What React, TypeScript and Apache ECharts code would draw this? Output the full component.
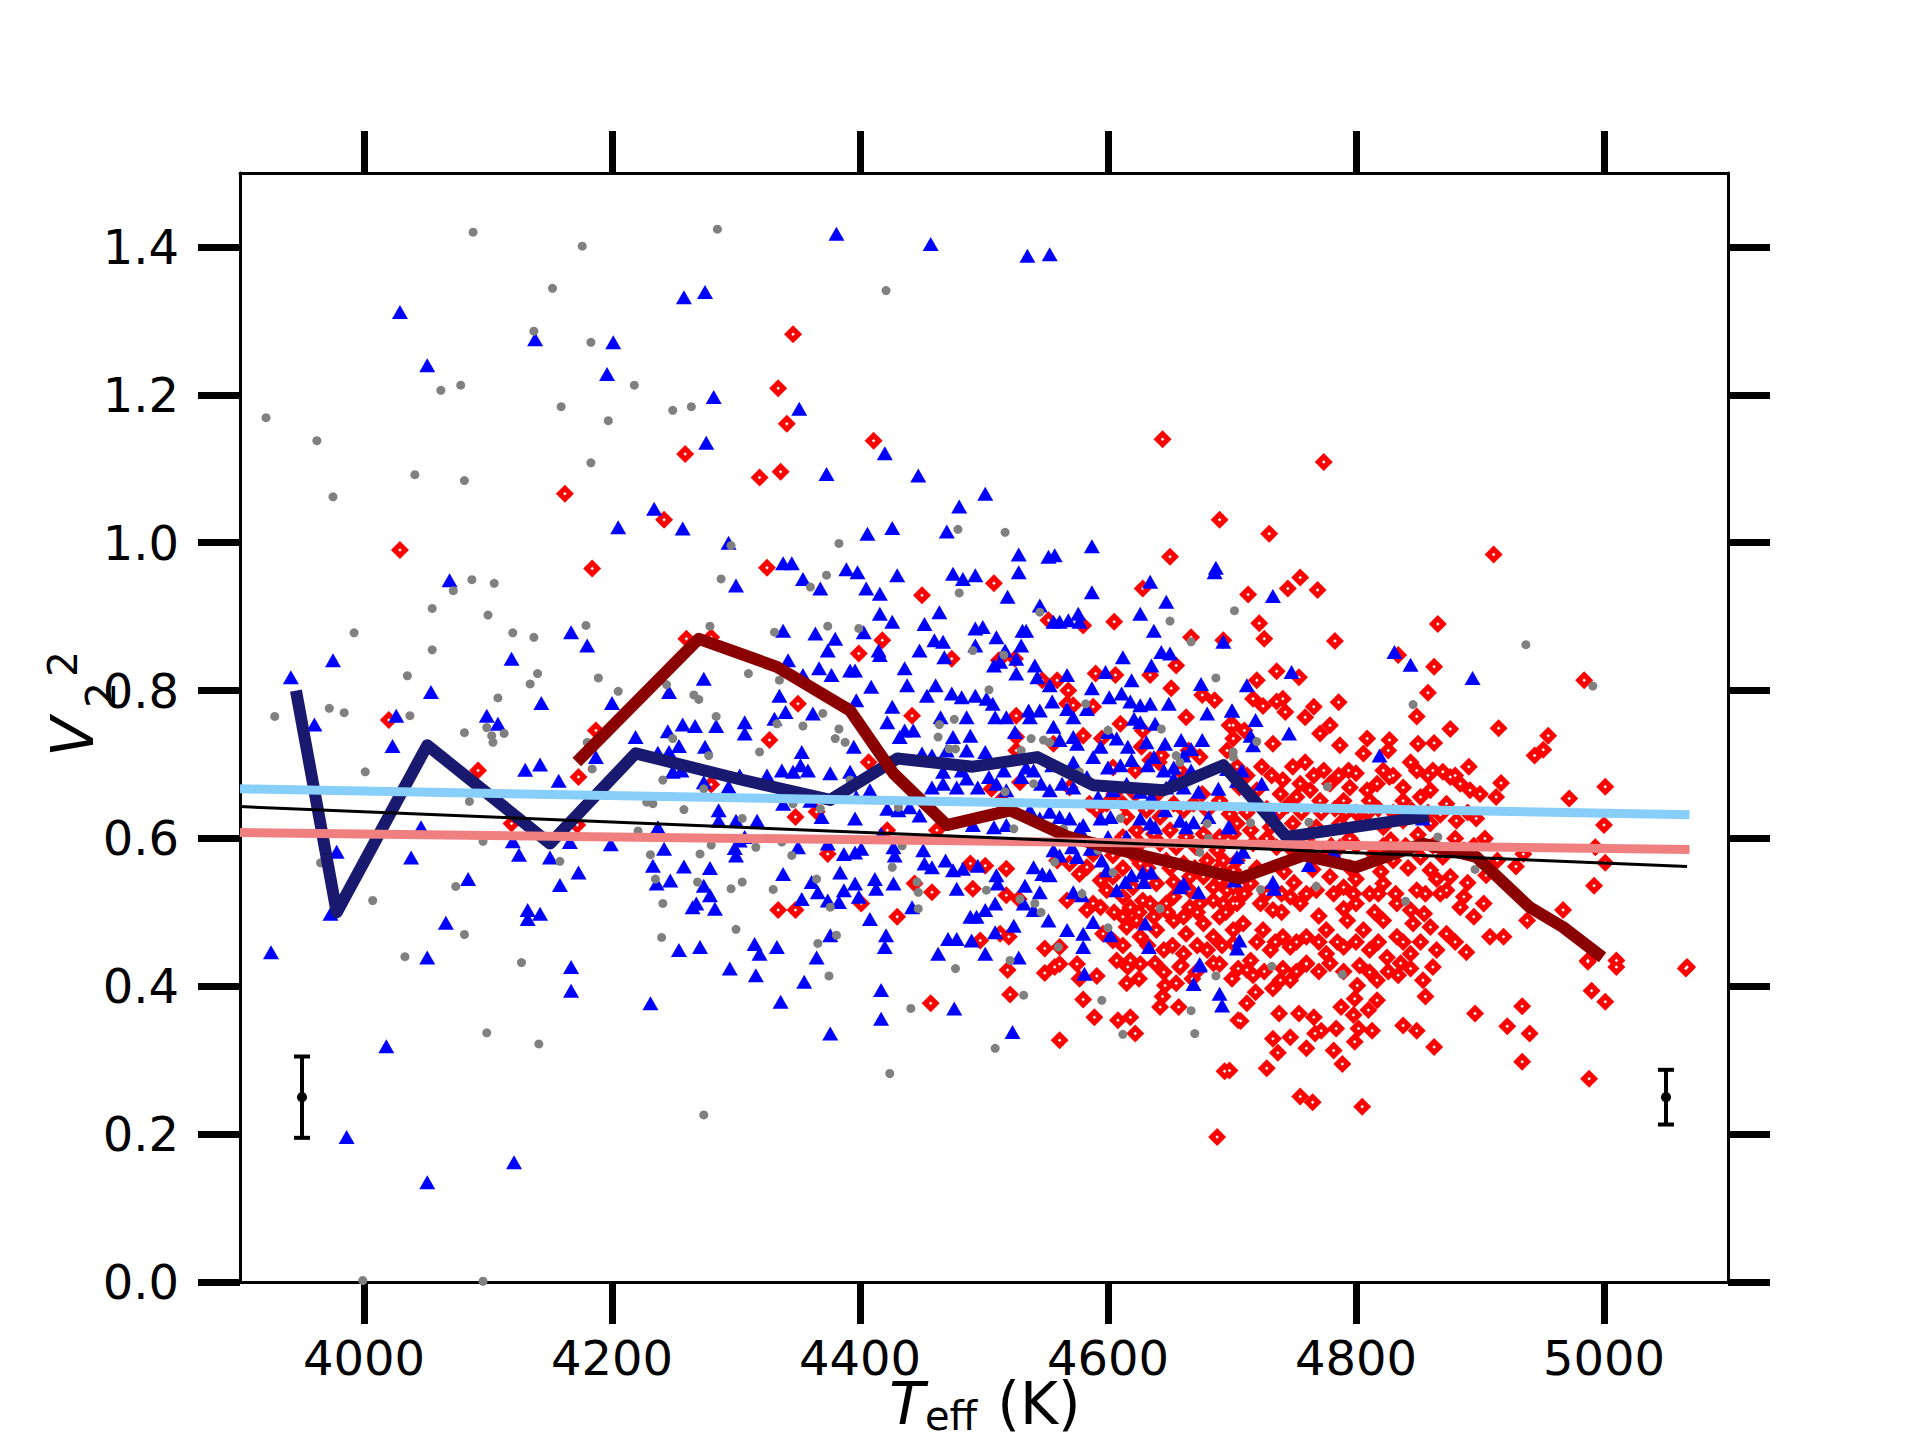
import React, { useEffect, useRef } from 'react';
import * as echarts from 'echarts';

const xTicks = [4000, 4200, 4400, 4600, 4800, 5000];
const yTicks = [0, 0.2, 0.4, 0.6, 0.8, 1.0, 1.2, 1.4];

const grayStars: number[][] = [
  [4088,1.420],[4176,1.401],[4285,1.424],[4152,1.344],[4137,1.286],[4183,1.271],[4218,1.213],[4062,1.206],[4078,1.213],[4159,1.184],[4197,1.165],[4249,1.179],[4264,1.184],[3921,1.169],[3962,1.138],[3975,1.062],[4041,1.092],[4081,1.084],[4183,1.108],[4296,0.996],
  [4421,1.341],[4479,1.018],[4517,1.014],[4383,0.999],
  [4087,0.950],[4105,0.945],[4072,0.935],[4288,0.951],[4055,0.911],[4100,0.902],[3992,0.878],[4120,0.878],[4137,0.872],[4179,0.888],[4279,0.887],[4055,0.855],[4035,0.820],[4140,0.823],[4134,0.809],[4189,0.817],[4205,0.799],[4244,0.808],[4266,0.794],[4270,0.788],[4108,0.790],[3928,0.765],[3972,0.776],[3984,0.770],[4037,0.766],[4284,0.765],[4081,0.743],[4099,0.750],[4103,0.739],[4113,0.742],[4104,0.730],[4180,0.730],[4249,0.735],[4278,0.712],[4184,0.694],[4001,0.690],[4241,0.679],[4274,0.667],[4085,0.650],[4228,0.649],[4233,0.647],[4258,0.639],[4221,0.610],[4096,0.596],[4280,0.591],[4271,0.579],[4231,0.578],[3965,0.567],[4158,0.569],[4235,0.545],[4269,0.541],[4296,0.532],[4074,0.535],[4007,0.516],[4241,0.512],[4081,0.470],[4300,0.477],[4240,0.466],[4033,0.440],[4127,0.432],
  [4099,0.337],[4141,0.322],[4274,0.226],[3999,0.002],[4096,0.001],
  [4373,0.956],[4360,0.940],[4480,0.932],[4545,0.906],[4650,0.894],[4702,0.908],[4667,0.866],[4331,0.879],[4374,0.887],[4399,0.884],[4491,0.854],[4516,0.848],[4687,0.817],[4310,0.823],[4335,0.814],[4370,0.769],[4333,0.755],[4354,0.752],[4383,0.748],[4464,0.754],[4476,0.761],[4504,0.801],[4582,0.782],[4643,0.748],[4319,0.717],[4380,0.735],[4388,0.730],[4463,0.737],[4472,0.721],[4477,0.721],[4530,0.719],[4538,0.735],[4548,0.733],[4553,0.730],[4600,0.746],[4655,0.712],[4658,0.703],[4305,0.627],[4346,0.647],[4368,0.640],[4431,0.642],[4517,0.663],[4540,0.674],[4610,0.627],[4680,0.620],[4681,0.600],[4577,0.690],[4524,0.613],[4392,0.679],[4564,0.613],[4337,0.595],[4345,0.577],[4434,0.590],[4426,0.561],[4557,0.568],[4592,0.584],[4604,0.554],[4674,0.581],[4316,0.588],[4305,0.541],[4330,0.531],[4365,0.545],[4376,0.507],[4446,0.541],[4447,0.527],[4447,0.505],[4502,0.530],[4529,0.518],[4541,0.512],[4546,0.500],[4579,0.525],[4600,0.479],[4642,0.505],[4366,0.458],[4381,0.469],[4560,0.453],[4521,0.435],[4477,0.424],
  [4375,0.414],[4441,0.370],[4532,0.388],[4509,0.316],[4424,0.282],[4595,0.381],[4612,0.335],[4667,0.367],[4670,0.336],[4687,0.414],
  [4732,0.427],[4789,0.416],
  [4937,0.862],[4991,0.806],[4846,0.781],[4720,0.731],[4701,0.717],[4701,0.710],[4777,0.670],[4762,0.622],[4715,0.621],[4866,0.602],[4896,0.558],[4768,0.535],[4723,0.531],[4840,0.515]
];

const blueStars: number[][] = [
  [4029,1.312],[4051,1.240],[4138,1.275],[4201,1.271],[4196,1.228],[4258,1.332],[4275,1.339],[4282,1.197],[4276,1.135],[4234,1.046],[4205,1.021],[4257,1.019],[4294,1.000],
  [4381,1.418],[4457,1.404],[4535,1.388],[4553,1.390],[4351,1.181],[4420,1.121],[4373,1.093],[4447,1.091],[4501,1.066],[4480,1.049],[4406,1.012],[4426,1.020],[4470,1.015],[4528,0.984],[4552,0.981],[4557,0.983],[4587,0.995],[4338,0.972],[4345,0.972],[4389,0.964],[4687,0.966],
  [4069,0.949],[4300,0.942],[4167,0.879],[4180,0.861],[3975,0.841],[4119,0.843],[3941,0.818],[4054,0.798],[4143,0.783],[4200,0.783],[4246,0.798],[4274,0.816],[4026,0.766],[3960,0.754],[4099,0.766],[4108,0.755],[4023,0.725],[4219,0.737],[4245,0.745],[4257,0.754],[4267,0.752],[4284,0.752],[4237,0.716],[4246,0.717],[4254,0.725],[4275,0.724],[4187,0.710],[4130,0.693],[4142,0.700],[4157,0.678],[4249,0.690],[4256,0.692],[4274,0.676],[4294,0.670],[4286,0.638],[4286,0.624],[4300,0.624],[4046,0.615],[4237,0.615],[3978,0.582],[4120,0.596],[4125,0.578],[4150,0.574],[4166,0.595],[4199,0.592],[4242,0.586],[4299,0.587],[4300,0.577],[4038,0.574],[4233,0.563],[4258,0.562],[4279,0.560],[4173,0.554],[4084,0.545],[4158,0.537],[4236,0.539],[4247,0.543],[4274,0.536],[4279,0.523],[4268,0.512],[4265,0.507],[4283,0.505],[3973,0.498],[4132,0.503],[4142,0.498],[4132,0.491],[4066,0.486],[3925,0.446],[4051,0.439],[4254,0.449],[4271,0.453],[4167,0.426],[4295,0.424],
  [4167,0.394],[4231,0.377],[4018,0.319],[3986,0.196],[4051,0.135],[4121,0.162],
  [4354,0.951],[4368,0.938],[4398,0.960],[4405,0.938],[4416,0.931],[4430,0.956],[4475,0.958],[4483,0.951],[4493,0.956],[4528,0.960],[4587,0.933],[4634,0.947],[4647,0.920],[4686,0.960],[4519,0.927],[4464,0.906],[4416,0.904],[4426,0.893],[4545,0.915],[4556,0.893],[4561,0.893],[4568,0.895],[4576,0.904],[4577,0.893],[4626,0.904],[4637,0.881],[4693,0.866],
  [4338,0.881],[4364,0.877],[4380,0.870],[4403,0.879],[4452,0.890],[4493,0.884],[4499,0.886],[4510,0.872],[4531,0.881],[4534,0.881],[4374,0.854],[4415,0.854],[4416,0.848],[4448,0.854],[4460,0.868],[4467,0.866],[4493,0.861],[4468,0.845],[4517,0.854],[4530,0.861],[4526,0.843],[4612,0.845],[4643,0.852],[4650,0.850],[4635,0.834],[4342,0.841],[4367,0.830],[4392,0.827],[4436,0.830],[4508,0.834],[4513,0.839],[4541,0.834],[4567,0.821],[4619,0.814],[4598,0.825],[4675,0.809],
  [4354,0.821],[4377,0.821],[4396,0.827],[4409,0.805],[4438,0.807],[4461,0.807],[4335,0.793],[4454,0.793],[4474,0.796],[4482,0.791],[4493,0.793],[4502,0.789],[4507,0.782],[4526,0.823],[4543,0.818],[4553,0.807],[4555,0.785],[4536,0.773],[4545,0.773],[4567,0.775],[4572,0.764],[4587,0.803],[4601,0.791],[4611,0.796],[4618,0.785],[4626,0.780],[4634,0.782],[4583,0.775],[4649,0.782],[4700,0.773],[4680,0.769],[4340,0.771],[4307,0.757],[4362,0.769],[4397,0.787],[4426,0.778],[4465,0.764],[4486,0.764],[4518,0.764],[4509,0.764],[4621,0.762],
  [4307,0.742],[4331,0.762],[4422,0.757],[4436,0.746],[4443,0.746],[4432,0.737],[4475,0.737],[4489,0.739],[4525,0.744],[4537,0.764],[4556,0.751],[4561,0.733],[4572,0.737],[4600,0.744],[4607,0.735],[4626,0.757],[4638,0.755],[4659,0.733],[4667,0.721],[4676,0.733],[4646,0.728],[4661,0.712],[4353,0.717],[4352,0.699],[4346,0.690],[4358,0.692],[4376,0.688],[4392,0.690],[4395,0.724],[4408,0.665],[4450,0.715],[4458,0.712],[4470,0.719],[4486,0.719],[4501,0.717],[4516,0.692],[4534,0.696],[4555,0.699],[4572,0.703],[4588,0.710],[4600,0.696],[4610,0.699],[4619,0.706],[4632,0.699],[4645,0.692],[4653,0.696],[4667,0.692],[4575,0.728],[4594,0.724],[4616,0.724],[4631,0.730],[4637,0.710],[4467,0.690],[4482,0.692],[4696,0.694],[4325,0.685],
  [4303,0.685],[4337,0.692],[4397,0.656],[4422,0.640],[4431,0.638],[4440,0.642],[4448,0.631],[4458,0.669],[4467,0.674],[4478,0.669],[4486,0.681],[4495,0.669],[4504,0.683],[4510,0.674],[4518,0.665],[4530,0.683],[4540,0.692],[4546,0.674],[4553,0.665],[4563,0.674],[4572,0.669],[4583,0.683],[4592,0.656],[4604,0.665],[4615,0.674],[4626,0.663],[4635,0.656],[4647,0.669],[4653,0.681],[4661,0.669],[4673,0.663],[4689,0.667],[4704,0.678],[4537,0.638],[4545,0.627],[4553,0.636],[4561,0.629],[4569,0.627],[4580,0.618],[4594,0.627],[4602,0.629],[4626,0.627],[4634,0.620],[4646,0.638],[4658,0.624],[4669,0.622],[4681,0.629],[4697,0.615],[4369,0.629],[4396,0.627],[4317,0.624],[4338,0.647],[4360,0.651],[4491,0.618],[4508,0.615],[4518,0.618],
  [4303,0.597],[4307,0.602],[4350,0.588],[4374,0.593],[4387,0.579],[4396,0.581],[4401,0.586],[4417,0.606],[4427,0.588],[4428,0.577],[4451,0.584],[4452,0.566],[4458,0.561],[4469,0.570],[4475,0.557],[4483,0.559],[4495,0.563],[4540,0.561],[4547,0.552],[4553,0.550],[4561,0.577],[4571,0.588],[4575,0.575],[4586,0.586],[4595,0.570],[4599,0.557],[4619,0.550],[4628,0.554],[4635,0.554],[4658,0.534],[4673,0.527],[4704,0.575],[4702,0.543],[4556,0.584],[4600,0.602],[4615,0.602],[4638,0.615],[4577,0.613],[4663,0.615],
  [4338,0.552],[4361,0.541],[4366,0.527],[4384,0.554],[4387,0.530],[4396,0.539],[4412,0.545],[4413,0.532],[4427,0.539],[4442,0.507],[4353,0.518],[4374,0.516],[4383,0.514],[4399,0.521],[4478,0.532],[4510,0.550],[4511,0.539],[4533,0.536],[4545,0.527],[4509,0.512],[4532,0.512],[4572,0.527],[4579,0.523],[4607,0.530],[4614,0.541],[4629,0.541],[4661,0.539],[4630,0.485],[4580,0.471],[4552,0.489],[4567,0.476],[4588,0.487],[4602,0.469],[4489,0.494],[4494,0.494],[4501,0.503],[4524,0.482],[4408,0.491],[4421,0.469],[4471,0.464],[4478,0.464],[4490,0.462],[4509,0.473],[4540,0.503],[4528,0.439],[4501,0.444],[4463,0.444],[4315,0.457],[4333,0.453],[4319,0.444],[4365,0.439],[4376,0.469],[4420,0.453],[4580,0.453],[4633,0.453],[4674,0.430],[4704,0.451],
  [4316,0.415],[4355,0.406],[4336,0.379],[4417,0.395],[4417,0.356],[4376,0.336],[4476,0.370],[4523,0.338],[4581,0.417],[4674,0.428],[4669,0.403],[4690,0.390],[4692,0.374],
  [4733,0.928],[4831,0.852],[4844,0.835],[4894,0.817],[4748,0.825],[4712,0.807],[4700,0.773],[4719,0.760],[4746,0.742],[4715,0.739],[4717,0.726],[4819,0.712],[4708,0.692],[4724,0.674],[4733,0.631],[4698,0.615],[4709,0.582],[4762,0.564],[4782,0.582],[4733,0.541],[4734,0.532],[4854,0.627],[4706,0.462]
];

const redStars: number[][] = [
  [4259,1.120],[4162,1.066],[4242,1.031],[4029,0.990],[4184,0.965],
  [4346,1.282],[4334,1.209],[4341,1.161],[4411,1.138],[4336,1.096],[4319,1.088],[4644,1.140],[4690,1.031],[4650,0.981],[4325,0.966],
  [4774,1.109],[4730,1.012],[4911,0.984],
  [4020,0.760],[4092,0.692],[4173,0.683],[4187,0.746],[4260,0.870],[4280,0.872],[4280,0.673],[4119,0.620],[4172,0.618],
  [4450,0.929],[4508,0.945],[4628,0.938],[4552,0.895],[4580,0.888],[4605,0.893],[4667,0.872],[4693,0.868],[4418,0.868],[4399,0.850],[4474,0.843],
  [4590,0.823],[4606,0.821],[4655,0.834],[4634,0.821],[4651,0.803],[4559,0.814],[4568,0.800],[4525,0.843],[4512,0.841],[4547,0.814],[4676,0.794],[4686,0.787],
  [4350,0.782],[4442,0.766],[4610,0.755],[4628,0.746],[4663,0.764],[4698,0.753],[4572,0.780],[4588,0.778],[4567,0.782],[4526,0.766],
  [4327,0.733],[4526,0.737],[4526,0.719],[4556,0.728],[4580,0.739],[4595,0.735],[4627,0.724],[4634,0.706],[4641,0.703],[4643,0.712],[4665,0.719],[4674,0.710],[4701,0.735],[4696,0.719],[4407,0.703],[4604,0.696],[4622,0.692],[4658,0.692],
  [4348,0.629],[4365,0.636],[4422,0.611],[4462,0.611],[4506,0.667],[4529,0.676],[4514,0.652],[4569,0.669],[4585,0.647],[4591,0.638],[4599,0.647],[4612,0.647],[4615,0.629],[4631,0.638],[4642,0.629],[4653,0.647],[4661,0.638],[4669,0.647],[4680,0.638],[4690,0.651],[4698,0.633],[4704,0.620],[4623,0.611],[4637,0.606],[4650,0.611],[4663,0.602],[4677,0.606],[4690,0.602],[4701,0.606],
  [4374,0.579],[4489,0.566],[4501,0.563],[4518,0.559],[4559,0.570],[4569,0.566],[4583,0.561],[4588,0.579],[4604,0.577],[4620,0.579],[4626,0.566],[4647,0.570],[4661,0.566],[4680,0.570],[4693,0.570],[4701,0.557],[4604,0.548],[4620,0.534],[4639,0.539],[4653,0.541],[4666,0.548],[4685,0.534],[4696,0.530],[4577,0.552],[4594,0.543],[4633,0.543],
  [4334,0.503],[4348,0.503],[4401,0.512],[4430,0.494],[4444,0.539],[4458,0.527],[4491,0.532],[4518,0.523],[4528,0.518],[4567,0.516],[4583,0.503],[4594,0.507],[4497,0.462],[4513,0.471],[4520,0.467],[4549,0.451],[4561,0.453],[4596,0.471],[4615,0.480],[4626,0.467],[4639,0.476],[4653,0.489],[4663,0.471],[4677,0.485],[4690,0.494],[4701,0.476],[4645,0.449],[4661,0.444],[4680,0.449],[4690,0.430],[4618,0.435],[4634,0.512],[4647,0.512],[4666,0.507],[4685,0.516],[4701,0.512],[4618,0.507],[4604,0.462],[4561,0.430],[4575,0.430],[4607,0.435],[4626,0.430],[4658,0.426],
  [4612,0.602],[4626,0.593],[4642,0.593],[4655,0.588],[4671,0.588],[4688,0.584],[4612,0.494],[4637,0.494],[4661,0.494],[4685,0.467],[4701,0.458],[4666,0.530],[4677,0.548],[4690,0.543],[4701,0.534],[4628,0.516],[4623,0.489],[4674,0.512],[4693,0.512],[4653,0.521],[4612,0.521],[4599,0.530],[4588,0.512],
  [4457,0.377],[4519,0.422],[4521,0.389],[4549,0.418],[4557,0.426],[4577,0.410],[4591,0.414],[4580,0.382],[4589,0.358],[4615,0.404],[4608,0.354],[4618,0.358],[4622,0.336],[4561,0.327],[4616,0.426],[4638,0.431],[4645,0.419],[4646,0.401],[4644,0.386],[4655,0.404],[4642,0.372],[4657,0.372],[4659,0.428],[4671,0.419],[4685,0.431],[4694,0.285],[4688,0.196],[4705,0.354],[4705,0.424],
  [4712,0.422],[4717,0.415],[4741,0.424],[4760,0.431],[4779,0.431],[4803,0.428],[4811,0.419],[4817,0.408],[4836,0.431],[4844,0.424],[4834,0.415],[4862,0.426],[4854,0.408],[4987,0.433],[5010,0.426],[5066,0.424],[4719,0.392],[4733,0.397],[4739,0.408],[4747,0.408],[4712,0.377],[4707,0.353],[4738,0.363],[4754,0.363],[4766,0.358],[4801,0.401],[4799,0.383],[4817,0.381],[4788,0.372],[4810,0.368],[4798,0.361],[4802,0.343],[4784,0.343],[4772,0.340],[4767,0.336],[4747,0.331],[4733,0.329],[4813,0.340],[4856,0.386],[4838,0.347],[4849,0.340],[4863,0.318],[4799,0.325],[4760,0.316],[4782,0.313],[4737,0.310],[4789,0.295],[4728,0.289],[4896,0.363],[4934,0.373],[4922,0.346],[4940,0.336],[4934,0.298],[4990,0.394],[5001,0.379],[4988,0.275],[4755,0.251],[4765,0.243],[4805,0.237],[4698,0.286],
  [4755,0.953],[4745,0.938],[4769,0.936],[4713,0.930],[4722,0.891],[4726,0.870],[4783,0.867],[4866,0.890],[4834,0.848],[4863,0.832],[4720,0.814],[4736,0.826],[4754,0.818],[4858,0.797],[4717,0.789],[4725,0.779],[4736,0.785],[4741,0.789],[4743,0.771],[4759,0.764],[4766,0.778],[4786,0.784],[4849,0.765],[4984,0.814],[4915,0.749],[4955,0.739],[4951,0.720],[4944,0.712],[4876,0.748],[4701,0.753],[4710,0.746],[4771,0.742],[4779,0.753],[4809,0.735],[4827,0.733],[4850,0.728],[4863,0.729],[4733,0.728],[4787,0.726],[4806,0.715],[4826,0.719],[4844,0.703],[4891,0.697],[4862,0.692],[4870,0.690],[4876,0.683],[4917,0.675],[5001,0.670],[4972,0.654],
  [4749,0.697],[4759,0.703],[4774,0.692],[4794,0.692],[4800,0.688],[4704,0.697],[4724,0.697],[4741,0.679],[4755,0.674],[4763,0.665],[4779,0.674],[4795,0.669],[4809,0.665],[4817,0.674],[4822,0.692],[4827,0.683],[4838,0.669],[4849,0.692],[4860,0.665],[4884,0.674],[4892,0.665],[4900,0.660],[4913,0.656],[4852,0.656],[4838,0.651],[4811,0.651],[4790,0.651],[4771,0.651],[4752,0.656],[4739,0.660],[4720,0.665],[4706,0.669],[4873,0.647],
  [5000,0.618],[4897,0.627],[4881,0.624],[4860,0.620],[4838,0.624],[4822,0.615],[4806,0.624],[4787,0.620],[4768,0.615],[4749,0.620],[4731,0.615],[4715,0.611],[4904,0.600],[4993,0.588],[4935,0.579],[4914,0.570],[4887,0.584],[4870,0.575],[4852,0.575],[4830,0.570],[4814,0.579],[4787,0.588],[4774,0.575],[4752,0.579],[4736,0.588],[4717,0.593],[4704,0.570],
  [4992,0.536],[4967,0.503],[4938,0.489],[4908,0.467],[4919,0.467],[4895,0.494],[4903,0.512],[4887,0.521],[4884,0.507],[4873,0.530],[4876,0.548],[4860,0.557],[4849,0.530],[4844,0.503],[4833,0.512],[4822,0.539],[4811,0.525],[4800,0.512],[4790,0.534],[4779,0.548],[4768,0.530],[4755,0.512],[4747,0.521],[4733,0.503],[4723,0.512],[4715,0.539],[4704,0.512],[4709,0.485],[4725,0.476],[4741,0.467],[4760,0.467],[4776,0.476],[4793,0.489],[4806,0.476],[4822,0.489],[4833,0.467],[4846,0.485],[4860,0.480],[4873,0.471],[4865,0.449],[4889,0.446],[4844,0.444],[4825,0.439],[4811,0.449],[4790,0.453],[4776,0.444],[4760,0.430],[4747,0.453],[4731,0.449],[4715,0.435],[4987,0.435],[5010,0.435],[5067,0.426],
  [4929,0.562],[4905,0.550],[5001,0.567],
  [4728,0.640],[4745,0.645],[4783,0.640],[4800,0.635],[4818,0.640],[4845,0.638],[4868,0.632],[4720,0.560],[4742,0.555],[4765,0.558],[4795,0.560],[4820,0.555],[4842,0.560],[4865,0.545],[4890,0.540],[4728,0.600],[4760,0.598],[4795,0.600],[4828,0.598],[4850,0.605],[4880,0.600],[4740,0.500],[4770,0.495],[4790,0.505],[4815,0.500],[4855,0.498],[4750,0.540],[4800,0.545],
  [4712,0.685],[4732,0.685],[4766,0.685],[4786,0.685],[4830,0.685],[4858,0.685],[4880,0.685],
  [4712,0.635],[4738,0.635],[4756,0.635],[4772,0.635],[4792,0.635],[4810,0.635],[4830,0.635],[4858,0.635],[4890,0.635],
  [4745,0.590],[4762,0.590],[4780,0.590],[4800,0.590],[4822,0.590],[4840,0.590],[4862,0.590],[4895,0.590],
  [4710,0.525],[4728,0.525],[4740,0.525],[4760,0.525],[4782,0.525],[4798,0.525],[4818,0.525],[4832,0.525],[4856,0.525],[4868,0.525],
  [4720,0.460],[4735,0.460],[4752,0.460],[4770,0.460],[4785,0.460],[4800,0.460],[4818,0.460],[4838,0.460],[4852,0.460],[4880,0.460],
  [4726,0.420],[4752,0.420],[4770,0.420],[4790,0.420],[4826,0.420],
  [4605,0.660],[4622,0.660],[4640,0.660],[4676,0.660],
  [4612,0.560],[4632,0.560],[4650,0.560],[4670,0.560],[4690,0.560],
  [4605,0.500],[4625,0.500],[4648,0.500],[4672,0.500],[4695,0.500],
  [4612,0.455],[4632,0.455],[4652,0.455],[4672,0.455],[4692,0.455],
  [4625,0.410],[4668,0.410],[4700,0.410]
];

const navyRunning: number[][] = [
  [3946,0.792],[3978,0.500],[4051,0.726],[4150,0.593],[4219,0.715],[4303,0.680],[4376,0.652],[4430,0.708],[4491,0.697],[4543,0.710],[4588,0.672],[4645,0.665],[4693,0.699],[4744,0.602],[4854,0.629]
];
const darkRedRunning: number[][] = [
  [4175,0.709],[4270,0.870],[4333,0.832],[4392,0.773],[4427,0.688],[4470,0.618],[4521,0.638],[4568,0.602],[4615,0.582],[4706,0.546],[4758,0.577],[4800,0.561],[4854,0.593],[4897,0.575],[4940,0.507],[4967,0.480],[4995,0.444]
];
const lightBlueFit: number[][] = [[3900,0.667],[5069,0.632]];
const lightCoralFit: number[][] = [[3900,0.608],[5069,0.585]];
const blackFit: number[][] = [[3900,0.643],[5067,0.562]];
// [teff, v2, low, high]
const errorBars: number[][] = [[3950,0.25,0.195,0.305],[5050,0.25,0.213,0.287]];

const FONT = "'DejaVu Sans', 'Liberation Sans', sans-serif";

function textEl(text: string, x: number, y: number, size: number, italic: boolean, rotation = 0) {
  return {
    type: 'text',
    x,
    y,
    rotation,
    silent: true,
    style: {
      text,
      fill: '#000',
      fontSize: size,
      fontFamily: FONT,
      fontStyle: italic ? 'italic' : 'normal',
      font: `${italic ? 'italic ' : ''}${size}px ${FONT}`,
      lineHeight: size,
      textAlign: 'center',
      align: 'center',
      textVerticalAlign: 'middle',
      verticalAlign: 'middle',
    },
  };
}

export default function App() {
  const ref = useRef<HTMLDivElement>(null);
  useEffect(() => {
    document.body.style.margin = '0';
    if (!ref.current) return;
    const chart = echarts.init(ref.current, undefined, { renderer: 'svg' });
    const axisLine = { show: true, onZero: false, lineStyle: { color: '#000', width: 3 } };
    const tickStyle = { color: '#000', width: 7 };
    const labelStyle = { color: '#000', fontSize: 48, fontFamily: FONT, lineHeight: 48 };
    const option: any = {
      animation: false,
      backgroundColor: '#ffffff',
      grid: { left: 240, right: 192, top: 173, bottom: 158, containLabel: false },
      xAxis: [
        {
          type: 'value', position: 'bottom', min: 3900, max: 5100,
          axisLine, splitLine: { show: false },
          axisTick: { show: true, inside: false, length: 42, lineStyle: tickStyle, customValues: xTicks },
          axisLabel: { ...labelStyle, margin: 52, customValues: xTicks, formatter: (v: number) => String(v) },
        },
        {
          type: 'value', position: 'top', min: 3900, max: 5100,
          axisLine, splitLine: { show: false },
          axisTick: { show: true, inside: false, length: 42, lineStyle: tickStyle, customValues: xTicks },
          axisLabel: { show: false },
        },
      ],
      yAxis: [
        {
          type: 'value', position: 'left', min: 0, max: 1.5,
          axisLine, splitLine: { show: false },
          axisTick: { show: true, inside: false, length: 42, lineStyle: tickStyle, customValues: yTicks },
          axisLabel: { ...labelStyle, margin: 61, customValues: yTicks, formatter: (v: number) => v.toFixed(1) },
        },
        {
          type: 'value', position: 'right', min: 0, max: 1.5,
          axisLine, splitLine: { show: false },
          axisTick: { show: true, inside: false, length: 42, lineStyle: tickStyle, customValues: yTicks },
          axisLabel: { show: false },
        },
      ],
      series: [
        {
          type: 'scatter', data: redStars, symbol: 'diamond', symbolSize: 18,
          itemStyle: { color: '#ff0000', opacity: 1 },
          z: 2,
        },
        {
          type: 'scatter', data: redStars, symbol: 'diamond', symbolSize: 3.5, silent: true,
          itemStyle: { color: '#ffffff', opacity: 1 },
          z: 2,
        },
        {
          type: 'scatter', data: blueStars, symbol: 'triangle', symbolSize: [16, 14],
          itemStyle: { color: '#0000ff', opacity: 1 },
          z: 2,
        },
        {
          type: 'scatter', data: grayStars, symbol: 'circle', symbolSize: 9,
          itemStyle: { color: '#808080', opacity: 1 },
          z: 2,
        },
        {
          type: 'line', data: navyRunning, symbol: 'none', z: 3,
          lineStyle: { color: '#191970', width: 12, cap: 'square', join: 'round' },
        },
        {
          type: 'line', data: darkRedRunning, symbol: 'none', z: 3,
          lineStyle: { color: '#8b0000', width: 12, cap: 'square', join: 'round' },
        },
        {
          type: 'line', data: lightBlueFit, symbol: 'none', z: 4,
          lineStyle: { color: '#87cefa', width: 9, cap: 'butt' },
        },
        {
          type: 'line', data: lightCoralFit, symbol: 'none', z: 4,
          lineStyle: { color: '#f08080', width: 9, cap: 'butt' },
        },
        {
          type: 'line', data: blackFit, symbol: 'none', z: 5,
          lineStyle: { color: '#000000', width: 3, cap: 'butt' },
        },
        {
          type: 'custom', data: errorBars, z: 6,
          renderItem: (params: any, api: any) => {
            const x = api.value(0);
            const c = api.coord([x, api.value(1)]);
            const lo = api.coord([x, api.value(2)]);
            const hi = api.coord([x, api.value(3)]);
            const st = { stroke: '#000', lineWidth: 4 };
            return {
              type: 'group',
              children: [
                { type: 'line', shape: { x1: lo[0], y1: lo[1], x2: hi[0], y2: hi[1] }, style: st },
                { type: 'line', shape: { x1: lo[0] - 8, y1: lo[1], x2: lo[0] + 8, y2: lo[1] }, style: st },
                { type: 'line', shape: { x1: hi[0] - 8, y1: hi[1], x2: hi[0] + 8, y2: hi[1] }, style: st },
                { type: 'circle', shape: { cx: c[0], cy: c[1], r: 5 }, style: { fill: '#000' } },
              ],
            };
          },
        },
      ],
      graphic: [
        textEl('T', 907, 1404, 58, true),
        textEl('eff', 951, 1416, 40, false),
        textEl('(K)', 1039, 1404, 58, false),
        textEl('V', 73, 737, 58, true, Math.PI / 2),
        textEl('2', 101, 695, 41, false, Math.PI / 2),
        textEl('2', 63, 664, 41, false, Math.PI / 2),
      ],
    };
    chart.setOption(option);
    return () => chart.dispose();
  }, []);
  return <div ref={ref} style={{ width: 1920, height: 1440 }} />;
}
